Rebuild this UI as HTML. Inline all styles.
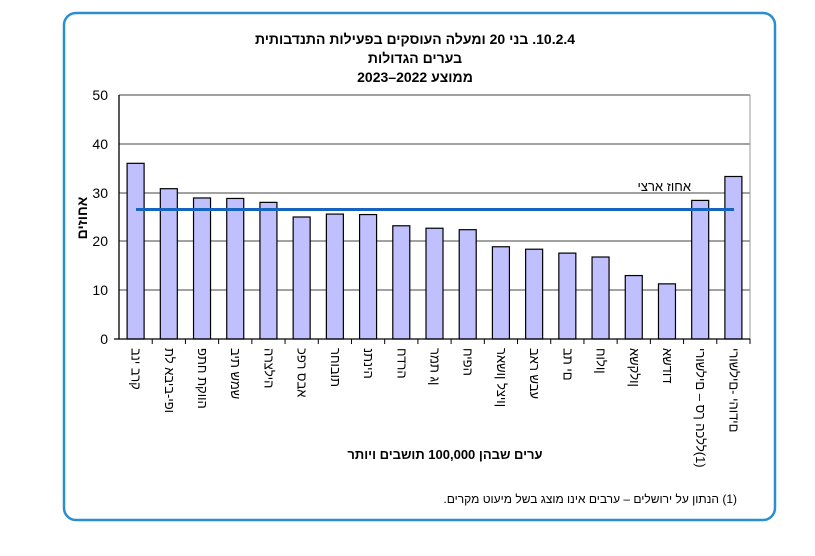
<!DOCTYPE html>
<html><head><meta charset="utf-8"><style>
body{margin:0;background:#fff}
svg text{font-family:"Liberation Sans",sans-serif;fill:#000}
</style></head><body>
<svg width="815" height="551" viewBox="0 0 815 551" xmlns="http://www.w3.org/2000/svg">
<rect x="64" y="13" width="711" height="507" rx="12" fill="#fff" stroke="#2a8fd0" stroke-width="2.5"/>
<g font-weight="bold" font-size="14" text-anchor="middle" direction="rtl">
<text x="415" y="44">10.2.4. בני 20 ומעלה העוסקים בפעילות התנדבותית</text>
<text x="415" y="63">בערים הגדולות</text>
<text x="415" y="82">ממוצע 2022–2023</text>
</g>
<g stroke="#444" stroke-width="1">
<line x1="119" y1="95" x2="750" y2="95"/>
<line x1="119" y1="144" x2="750" y2="144"/>
<line x1="119" y1="193" x2="750" y2="193"/>
<line x1="119" y1="241" x2="750" y2="241"/>
<line x1="119" y1="290" x2="750" y2="290"/>
<line x1="750" y1="95" x2="750" y2="339" stroke="#999"/>
</g>
<g font-size="14" text-anchor="end">
<text x="108" y="100">50</text><text x="108" y="149">40</text><text x="108" y="198">30</text>
<text x="108" y="246">20</text><text x="108" y="295">10</text><text x="108" y="344">0</text>
</g>
<g fill="#c0c0ff" stroke="#000" stroke-width="1.2" id="bars"></g>
<line x1="119" y1="95" x2="119" y2="339" stroke="#000" stroke-width="1.3"/>
<line x1="114" y1="339" x2="750" y2="339" stroke="#000" stroke-width="1.3"/>
<g stroke="#000" id="ticks"></g>
<line x1="136" y1="209.5" x2="734" y2="209.5" stroke="#1565c0" stroke-width="3"/>
<text x="691" y="191" font-size="13" text-anchor="end">אחוז ארצי</text>
<g font-size="13" id="labels"></g>
<text transform="translate(87,218) rotate(-90)" font-size="14" font-weight="bold" text-anchor="middle">אחוזים</text>
<text x="445" y="459" font-size="13" font-weight="bold" text-anchor="middle">ערים שבהן 100,000 תושבים ויותר</text>
<text x="737" y="503" font-size="12" text-anchor="start" direction="rtl">(1) הנתון על ירושלים – ערבים אינו מוצג בשל מיעוט מקרים.</text>
</svg>
<script>
var v=[36,30.8,28.9,28.8,28,25,25.6,25.5,23.2,22.7,22.4,18.9,18.4,17.6,16.8,13,11.3,28.4,33.3];
var n=["בני ברק","תל אביב-יפו","פתח תקווה","בית שמש","הרצליה","כפר סבא","רחובות","נתניה","חדרה","רמת גן","חיפה","ראשון לציון","באר שבע","בת ים","חולון","אשקלון","אשדוד","ירושלים – סך הכלל(1)","ירושלים- יהודים"];
var ns="http://www.w3.org/2000/svg",b=document.getElementById("bars"),t=document.getElementById("ticks"),l=document.getElementById("labels");
var w=(750-119)/19;
for(var i=0;i<19;i++){
 var cx=119+w*(i+0.5),h=v[i]*4.88;
 var r=document.createElementNS(ns,"rect");r.setAttribute("x",cx-8.5);r.setAttribute("y",339-h);r.setAttribute("width",17);r.setAttribute("height",h);b.appendChild(r);
 var k=document.createElementNS(ns,"line");var tx=119+w*(i+1);k.setAttribute("x1",tx);k.setAttribute("x2",tx);k.setAttribute("y1",339);k.setAttribute("y2",344);t.appendChild(k);
 var s=document.createElementNS(ns,"text");s.setAttribute("transform","translate("+(cx-4)+",348) rotate(90)");
 s.setAttribute("direction","ltr");s.setAttribute("unicode-bidi","bidi-override");s.style.unicodeBidi="bidi-override";s.style.direction="ltr";
 s.textContent=n[i];l.appendChild(s);
}
</script>
</body></html>
